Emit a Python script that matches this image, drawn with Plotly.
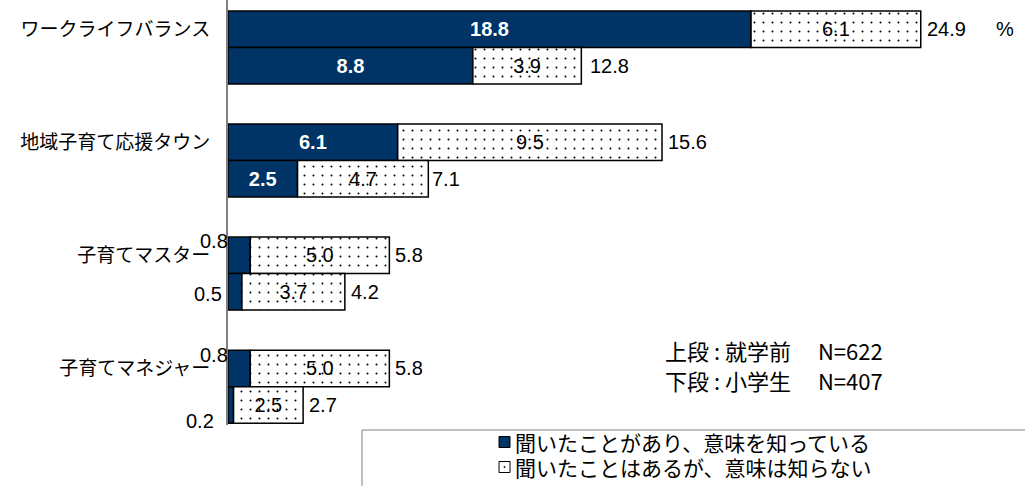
import plotly.graph_objects as go

# ── Data ────────────────────────────────────────────────────────────────────
categories = ["ワークライフバランス", "地域子育て応援タウン", "子育てマスター", "子育てマネジャー"]

# 上段: 就学前 (N=622)
known_preschool = [18.8, 6.1, 0.8, 0.8]
heard_preschool = [6.1, 9.5, 5.0, 5.0]
total_preschool = [24.9, 15.6, 5.8, 5.8]

# 下段: 小学生 (N=407)
known_elementary = [8.8, 2.5, 0.5, 0.2]
heard_elementary = [3.9, 4.7, 3.7, 2.5]
total_elementary = [12.8, 7.1, 4.2, 2.7]

series_names = ["聞いたことがあり、意味を知っている", "聞いたことはあるが、意味は知らない"]
sample_notes = ["上段 : 就学前　 N=622", "下段 : 小学生　 N=407"]

# ── Style ───────────────────────────────────────────────────────────────────
NAVY = "#003366"
AXIS_GRAY = "#808080"
JP = "'Noto Sans CJK JP', 'Noto Sans', sans-serif"
NUM = "'Liberation Sans', Arial, sans-serif"

W, H = 1025, 486
M_L, M_R, M_T, M_B = 228, 18, 0, 61
PLOT_W, PLOT_H = W - M_L - M_R, H - M_T - M_B


def px(x):
    return (x - M_L) / PLOT_W


def py(y):
    return (H - M_B - y) / PLOT_H


# each category holds two touching bars (upper / lower), then a gap
upper = [i * 3.1 for i in range(len(categories))]
lower = [p + 1 for p in upper]

fig = go.Figure()

rows = [
    (upper, known_preschool, heard_preschool, total_preschool),
    (lower, known_elementary, heard_elementary, total_elementary),
]

for pos, known, heard, total in rows:
    fig.add_trace(go.Bar(
        x=known, y=pos, orientation="h", width=1,
        name=series_names[0], showlegend=False,
        marker=dict(color=NAVY, line=dict(color="black", width=1.5)),
        text=[f"{v:.1f}" if v >= 1 else "" for v in known],
        textposition="inside", insidetextanchor="middle",
        textfont=dict(family=NUM, size=20, color="white", weight="bold"),
        hoverinfo="skip",
    ))
    fig.add_trace(go.Bar(
        x=heard, y=pos, base=known, orientation="h", width=1,
        name=series_names[1], showlegend=False,
        marker=dict(
            color="white",
            line=dict(color="black", width=1.5),
            pattern=dict(shape=".", size=9, solidity=0.04,
                         fgcolor="black", bgcolor="white", fillmode="replace"),
        ),
        text=[f"{v:.1f}" for v in heard],
        textposition="inside", insidetextanchor="middle",
        textfont=dict(family=NUM, size=20, color="black"),
        hoverinfo="skip",
    ))
    for v, p in zip(total, pos):
        fig.add_annotation(
            x=v, y=p, xref="x", yref="y", text=f"{v:.1f}", showarrow=False,
            xanchor="left", yanchor="middle", xshift=4,
            font=dict(family=NUM, size=20, color="black"),
        )

# small "known" values sit outside, left of the axis
small_offset = {(0, 2): (2, 14), (0, 3): (2, 13), (1, 2): (-4, -2), (1, 3): (-12, -16)}
for r, (pos, known, _, _) in enumerate(rows):
    for i, v in enumerate(known):
        if v < 1:
            dx, dy = small_offset.get((r, i), (0, 0))
            fig.add_annotation(
                x=0, y=pos[i], xref="x", yref="y", text=f"{v:.1f}",
                showarrow=False, xanchor="right", yanchor="middle",
                xshift=dx, yshift=dy,
                font=dict(family=NUM, size=20, color="black"),
            )

fig.add_annotation(
    x=px(1005), y=upper[0], xref="paper", yref="y", text="%", showarrow=False,
    xanchor="center", yanchor="middle", font=dict(family=NUM, size=20, color="black"),
)
for txt, yy in zip(sample_notes, [350, 380]):
    fig.add_annotation(
        x=px(663), y=py(yy), xref="paper", yref="paper", text=txt,
        showarrow=False, xanchor="left", yanchor="middle",
        font=dict(family=JP, size=22, color="black"),
    )

# ── Legend (drawn by hand: box runs off the bottom-right edge) ─────────────
fig.add_shape(
    type="rect", xref="paper", yref="paper",
    x0=px(362), y0=py(430), x1=px(1040), y1=py(500),
    line=dict(color=AXIS_GRAY, width=1), fillcolor="rgba(0,0,0,0)",
)
legend_rows = [(series_names[0], 442, NAVY), (series_names[1], 467, "white")]
for name, yy, fill in legend_rows:
    fig.add_shape(
        type="rect", xref="paper", yref="paper",
        x0=px(499), x1=px(510), y0=py(yy - 5.5), y1=py(yy + 5.5),
        line=dict(color="black", width=1), fillcolor=fill,
    )
    if fill == "white":
        fig.add_shape(
            type="circle", xref="paper", yref="paper",
            x0=px(503.8), x1=px(505.2), y0=py(yy - 0.7), y1=py(yy + 0.7),
            line=dict(color="black", width=0.5), fillcolor="black",
        )
    fig.add_annotation(
        x=px(513), y=py(yy), xref="paper", yref="paper", text=name,
        showarrow=False, xanchor="left", yanchor="middle",
        font=dict(family=JP, size=21, color="black"),
    )

fig.update_layout(
    width=W, height=H,
    paper_bgcolor="white", plot_bgcolor="white",
    barmode="overlay",
    margin=dict(l=M_L, r=M_R, t=M_T, b=M_B),
    font=dict(family=JP, color="black"),
    showlegend=False,
    xaxis=dict(range=[0, 28], visible=False, fixedrange=True),
    yaxis=dict(
        range=[10.85, -0.8],
        tickmode="array", tickvals=upper, ticktext=categories,
        tickfont=dict(family=JP, size=19, color="black"),
        ticks="", showgrid=False, zeroline=False,
        showline=True, linecolor=AXIS_GRAY, linewidth=2,
        ticklabelstandoff=12, fixedrange=True,
    ),
)

fig.write_html(
    "out.html",
    config={"displayModeBar": False},
    post_script="document.body.style.margin='0';",
)
